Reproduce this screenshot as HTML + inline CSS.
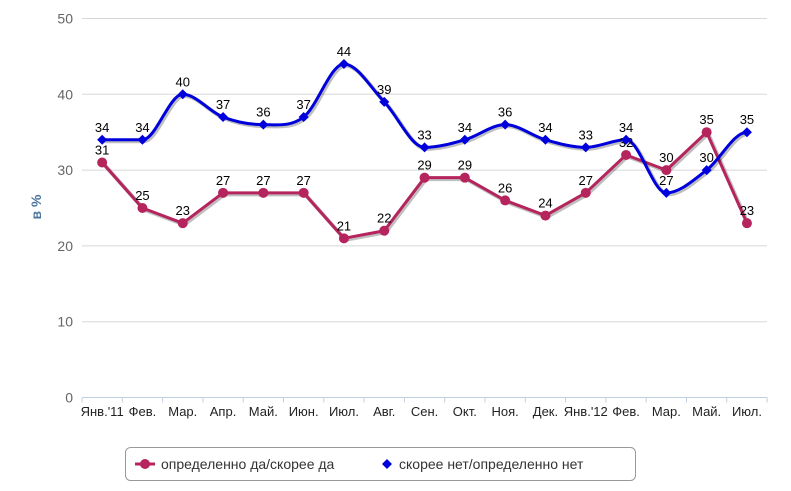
<!DOCTYPE html>
<html><head><meta charset="utf-8"><style>
html,body{margin:0;padding:0;background:#fff;}
svg{display:block;font-family:"Liberation Sans","DejaVu Sans",sans-serif;}
</style></head><body>
<svg id="c" width="791" height="491" xmlns="http://www.w3.org/2000/svg"></svg>
<script>
const s=document.getElementById('c');
const NS='http://www.w3.org/2000/svg';
function el(t,a,txt){const e=document.createElementNS(NS,t);for(const k in a)e.setAttribute(k,a[k]);if(txt!==undefined)e.textContent=txt;s.appendChild(e);return e;}
const y0=397.5,sc=7.58,x0=82,st=40.3;
const Y=v=>y0-v*sc, X=i=>x0+st/2+i*st;
for(let v=0;v<=50;v+=10){
 el('line',{x1:82,x2:767,y1:Y(v),y2:Y(v),stroke:v?'#d8d8d8':'#c0d0e0','stroke-width':1});
 el('text',{x:73,y:Y(v)+5,'text-anchor':'end','font-size':14,fill:'#666'},v);
}
for(let i=0;i<=17;i++)el('line',{x1:x0+i*st,x2:x0+i*st,y1:y0,y2:y0+5,stroke:'#c0d0e0'});
el('text',{x:0,y:0,transform:'translate(41,207) rotate(-90)','text-anchor':'middle','font-size':14,'font-weight':'bold',fill:'#4d759e'},'в %');
const cats=["Янв.'11","Фев.","Мар.","Апр.","Май.","Июн.","Июл.","Авг.","Сен.","Окт.","Ноя.","Дек.","Янв.'12","Фев.","Мар.","Май.","Июл."];
cats.forEach((c,i)=>el('text',{x:X(i),y:416,'text-anchor':'middle','font-size':13,fill:'#222'},c));
const red=[31,25,23,27,27,27,21,22,29,29,26,24,27,32,30,35,23];
const blue=[34,34,40,37,36,37,44,39,33,34,36,34,33,34,27,30,35];
let rp=red.map((v,i)=>X(i)+','+Y(v)).join(' ');
el('polyline',{points:rp,fill:'none',stroke:'rgba(0,0,0,0.25)','stroke-width':4,transform:'translate(1.5,1.5)'});
el('polyline',{points:rp,fill:'none',stroke:'#b5245c','stroke-width':3,'stroke-linejoin':'round'});
function spline(d){const p=d.map((v,i)=>[X(i),Y(v)]);let s='M'+p[0];const sm=1.5;
 for(let i=0;i<p.length-1;i++){const a=p[i],b=p[i+1];
  let c1=[a[0]+st/3,a[1]],c2=[b[0]-st/3,b[1]];
  if(i>0){const pr=p[i-1];c1[1]=a[1]+(b[1]-pr[1])/(2*sm)/2;}
  if(i+2<p.length){const nx=p[i+2];c2[1]=b[1]-(nx[1]-a[1])/(2*sm)/2;}
  if(i>0){const pr=p[i-1];if((a[1]-pr[1])*(b[1]-a[1])<=0)c1[1]=a[1];}
  if(i+2<p.length){const nx=p[i+2];if((b[1]-a[1])*(nx[1]-b[1])<=0)c2[1]=b[1];}
  s+=' C'+c1+' '+c2+' '+b;}
 return s;}
const bp=spline(blue);
el('path',{d:bp,fill:'none',stroke:'rgba(0,0,0,0.25)','stroke-width':4,transform:'translate(1.5,1.5)'});
el('path',{d:bp,fill:'none',stroke:'#0000dd','stroke-width':3});
red.forEach((v,i)=>{el('circle',{cx:X(i),cy:Y(v),r:5,fill:'#b5245c'});el('text',{x:X(i),y:Y(v)-8,'text-anchor':'middle','font-size':13,fill:'#000'},v);});
blue.forEach((v,i)=>{const x=X(i),y=Y(v);el('path',{d:`M${x},${y-5}L${x+5},${y}L${x},${y+5}L${x-5},${y}Z`,fill:'#0000dd'});el('text',{x:x,y:y-8,'text-anchor':'middle','font-size':13,fill:'#000'},v);});
el('rect',{x:125.5,y:447.5,width:510,height:33,rx:5,fill:'#fff',stroke:'#999'});
el('line',{x1:135,x2:155,y1:464,y2:464,stroke:'#b5245c','stroke-width':3});
el('circle',{cx:145,cy:464,r:5,fill:'#b5245c'});
el('text',{x:161,y:469,'font-size':14,fill:'#333'},'определенно да/скорее да');
el('path',{d:'M387,459L392,464L387,469L382,464Z',fill:'#0000dd'});
el('text',{x:399,y:469,'font-size':14,fill:'#333'},'скорее нет/определенно нет');
</script>
</body></html>
